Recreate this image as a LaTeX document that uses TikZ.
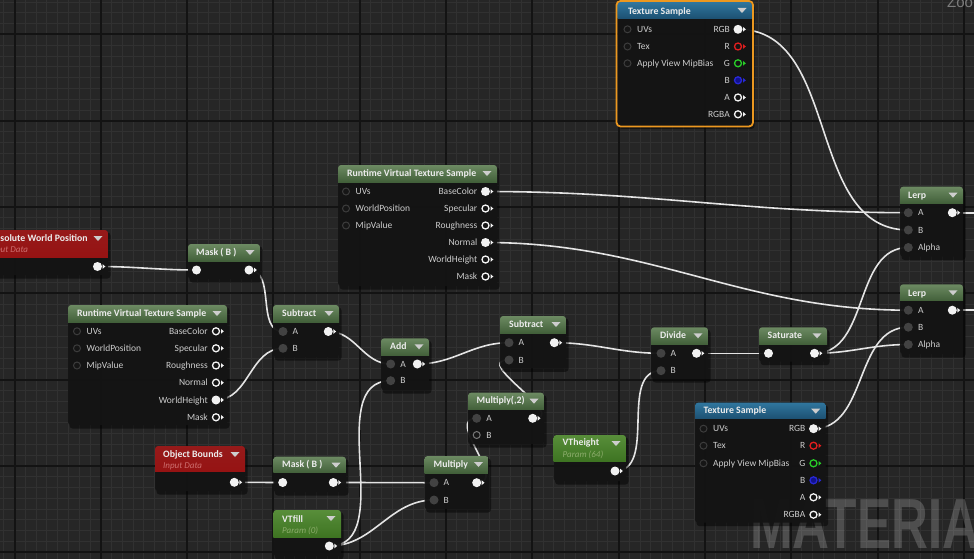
\documentclass[tikz,border=0pt]{standalone}
\usepackage{fontspec}
\newfontfamily\uefont{Carlito}
\newfontfamily\wmfont{Liberation Sans}
\pgfdeclarelayer{gridlayer}
\pgfdeclarelayer{wirelayer}
\pgfsetlayers{gridlayer,wirelayer,main}
\definecolor{bgc}{RGB}{38,38,38}
\definecolor{minorc}{RGB}{49,49,49}
\definecolor{majorc}{RGB}{19,19,19}
\definecolor{bodyc}{RGB}{20,20,20}
\definecolor{wirec}{RGB}{228,228,228}
\definecolor{pinw}{RGB}{242,242,242}
\definecolor{ping}{RGB}{66,66,66}
\definecolor{pinud}{RGB}{60,60,60}
\definecolor{pinuf}{RGB}{22,22,22}
\definecolor{pinm}{RGB}{120,120,120}
\definecolor{lblc}{RGB}{205,205,205}
\definecolor{ttlc}{RGB}{236,236,236}
\definecolor{hdrarrow}{RGB}{205,205,205}
\definecolor{gtop}{RGB}{108,138,98}
\definecolor{gbot}{RGB}{56,86,48}
\definecolor{ptop}{RGB}{88,142,58}
\definecolor{pbot}{RGB}{58,112,30}
\definecolor{rtop}{RGB}{150,26,26}
\definecolor{rbot}{RGB}{150,18,18}
\definecolor{btop}{RGB}{48,118,158}
\definecolor{bbot}{RGB}{24,72,104}
\definecolor{subred}{RGB}{205,110,110}
\definecolor{subgrn}{RGB}{140,172,108}
\definecolor{selc}{RGB}{236,152,32}
\definecolor{pinr}{RGB}{225,30,30}
\definecolor{ping2}{RGB}{40,205,40}
\definecolor{pinb}{RGB}{40,40,215}
\definecolor{pinbf}{RGB}{18,18,140}
\definecolor{zoomc}{RGB}{125,125,125}
\tikzset{
  pW/.style={circle,fill=pinw,inner sep=0,minimum size=9pt},
  pH/.style={circle,draw=pinw,fill=bodyc,line width=1.3pt,inner sep=0,minimum size=7pt},
  pG/.style={circle,fill=ping,inner sep=0,minimum size=9pt},
  pU/.style={circle,draw=pinud,fill=pinuf,line width=1pt,inner sep=0,minimum size=7pt},
  pM/.style={circle,draw=pinm,fill=pinuf,line width=1pt,inner sep=0,minimum size=7pt},
  lbl/.style={inner sep=0,text=lblc,font=\uefont\fontsize{9.5}{10}\selectfont,text height=6.2pt,text depth=0pt},
  ttl/.style={inner sep=0,text=ttlc,font=\uefont\bfseries\fontsize{9.8}{12}\selectfont,text height=6.5pt,text depth=0pt,anchor=west},
  subt/.style={inner sep=0,font=\uefont\itshape\fontsize{9}{10}\selectfont,text height=6pt,text depth=0pt,anchor=west},
  wire/.style={draw=wirec,line width=1.6pt},
  hgreen/.style={top color=gtop,bottom color=gbot},
  hparam/.style={top color=ptop,bottom color=pbot},
  hred/.style={top color=rtop,bottom color=rbot},
  hblue/.style={top color=btop,bottom color=bbot},
}
% box: x1,y1,x2,y2,header bottom,header style
\newcommand\uebox[6]{%
  \fill[black,opacity=0.45,rounded corners=3] (#1+1.5,#2+2.5) rectangle (#3+2.5,#4+3.5);
  \fill[bodyc,opacity=0.94,rounded corners=3] (#1,#2) rectangle (#3,#4);
  \begin{scope}
    \clip (#1,#2) rectangle (#3,#5);
    \shade[#6,rounded corners=3] (#1,#2) rectangle (#3,#5+4);
  \end{scope}
  \fill[hdrarrow] (#3-14.5,#2+6) -- (#3-5.5,#2+6) -- (#3-10,#2+11) -- cycle;
}
\newcommand\tri[3]{\fill[#3] (#1+5,#2-2.4) -- (#1+7.8,#2) -- (#1+5,#2+2.4) -- cycle;}
\newcommand\outW[4]{\node[pW] (#1) at (#2,#3) {};\tri{#2}{#3}{pinw}\node[lbl,anchor=east] (#1l) at (#2-8,#3) {#4};}
\newcommand\outH[4]{\node[pH] (#1) at (#2,#3) {};\tri{#2}{#3}{pinw}\node[lbl,anchor=east] (#1l) at (#2-8,#3) {#4};}
\newcommand\outC[5]{\node[pH,draw=#5] (#1) at (#2,#3) {};\tri{#2}{#3}{#5}\node[lbl,anchor=east] (#1l) at (#2-8,#3) {#4};}
\newcommand\outB[4]{\node[pH,draw=pinb,fill=pinbf] (#1) at (#2,#3) {};\tri{#2}{#3}{pinb}\node[lbl,anchor=east] (#1l) at (#2-8,#3) {#4};}
\newcommand\inU[4]{\node[pU] (#1) at (#2,#3) {};\node[lbl,anchor=west] (#1l) at (#2+9.5,#3) {#4};}
\newcommand\inG[4]{\node[pG] (#1) at (#2,#3) {};\node[lbl,anchor=west] (#1l) at (#2+9.5,#3) {#4};}
\newcommand\inM[4]{\node[pM] (#1) at (#2,#3) {};\node[lbl,anchor=west] (#1l) at (#2+9.5,#3) {#4};}
\begin{document}
\begin{tikzpicture}[x=1pt,y=-1pt]
\useasboundingbox (0,0) rectangle (974,559);
\begin{pgfonlayer}{gridlayer}
  \fill[bgc] (0,0) rectangle (974,559);
  \foreach \i in {-2,...,92} \draw[minorc,line width=1pt] ({14.5+10.7875*\i},0) -- ++(0,559);
  \foreach \i in {-4,...,52} \draw[minorc,line width=1pt] (0,{34.5+10.7875*\i}) -- ++(974,0);
  \foreach \i in {0,...,11} \draw[majorc,line width=2pt] ({14.5+86.3*\i},0) -- ++(0,559);
  \foreach \i in {-1,...,6} \draw[majorc,line width=2pt] (0,{34.5+86.3*\i}) -- ++(974,0);
\end{pgfonlayer}
\begin{scope}
\clip (0,0) rectangle (974,559);
% watermark and zoom label
\node[anchor=base west,inner sep=0,text=white,text opacity=0.19,font=\wmfont\bfseries\fontsize{71}{71}\selectfont,xscale=0.72] (wm) at (750,548) {MATERIAL};
\node[anchor=base west,inner sep=0,text=zoomc,font=\wmfont\fontsize{15}{15}\selectfont] (zoomt) at (947,8) {Zoom -2};

% Absolute World Position
\uebox{-24}{230}{108}{275}{257}{hred}
\node[ttl] (awpT) at (-11,238) {Absolute World Position};
\node[subt,text=subred] (awpS) at (-11,249.5) {Input Data};
\outW{awp}{97.5}{266.5}{}

% Mask (B) top
\uebox{188}{244}{260}{279}{261}{hgreen}
\node[ttl] (mb1T) at (196,252.5) {Mask ( B )};
\node[pW] (mb1i) at (196.5,270) {};
\outW{mb1o}{249}{270}{}

% RVT left
\uebox{68}{305}{227}{425}{322}{hgreen}
\node[ttl] (rvlT) at (77,313.5) {Runtime Virtual Texture Sample};
\inU{rvlUV}{77}{331.3}{UVs}
\inU{rvlWP}{77}{348.3}{WorldPosition}
\inU{rvlMV}{77}{365.5}{MipValue}
\outH{rvlBC}{216}{331.3}{BaseColor}
\outH{rvlSp}{216}{348.3}{Specular}
\outH{rvlRo}{216}{365.5}{Roughness}
\outH{rvlNo}{216}{382.7}{Normal}
\outW{rvlWH}{216}{400}{WorldHeight}
\outH{rvlMa}{216}{417.3}{Mask}

% RVT top
\uebox{338}{165}{497}{286}{182}{hgreen}
\node[ttl] (rvtT) at (347,173.5) {Runtime Virtual Texture Sample};
\inU{rvtUV}{346}{191.5}{UVs}
\inU{rvtWP}{346}{208.5}{WorldPosition}
\inU{rvtMV}{346}{225.5}{MipValue}
\outW{rvtBC}{485.5}{191.5}{BaseColor}
\outH{rvtSp}{485.5}{208.5}{Specular}
\outH{rvtRo}{485.5}{225.5}{Roughness}
\outW{rvtNo}{485.5}{242.5}{Normal}
\outH{rvtWH}{485.5}{259.5}{WorldHeight}
\outH{rvtMa}{485.5}{276.5}{Mask}

% Subtract left
\uebox{273}{305}{339}{357}{322}{hgreen}
\node[ttl] (s1T) at (282,313.5) {Subtract};
\inG{s1A}{283}{331.5}{A}
\inG{s1B}{283}{348.3}{B}
\outW{s1o}{328.3}{331.5}{}

% Add
\uebox{381}{338.3}{429}{390}{355.5}{hgreen}
\node[ttl] (addT) at (390,346.7) {Add};
\inG{addA}{390.7}{364}{A}
\inG{addB}{390.7}{380.7}{B}
\outW{addO}{417.3}{364}{}

% Subtract middle
\uebox{500}{316}{566}{368.3}{333}{hgreen}
\node[ttl] (s2T) at (509,324.7) {Subtract};
\inG{s2A}{509}{342.7}{A}
\inG{s2B}{509}{360}{B}
\outW{s2o}{554.3}{342.7}{}

% Multiply(,2)
\uebox{468}{392.7}{544}{444}{409.5}{hgreen}
\node[ttl] (m2T) at (476.5,400.7) {Multiply(,2)};
\inG{m2A}{476.7}{418.3}{A}
\inM{m2B}{476.7}{435}{B}
\outW{m2o}{532.7}{418.3}{}

% Multiply
\uebox{424.5}{456}{488.5}{509}{473}{hgreen}
\node[ttl] (m1T) at (433.5,464.5) {Multiply};
\inG{m1A}{434}{482.7}{A}
\inG{m1B}{434}{500}{B}
\outW{m1o}{476.7}{482.7}{}

% Object Bounds
\uebox{155}{446}{245}{491}{471.5}{hred}
\node[ttl] (obT) at (163,454) {Object Bounds};
\node[subt,text=subred] (obS) at (163,465.5) {Input Data};
\outW{obo}{234.3}{482.3}{}

% Mask (B) bottom
\uebox{273.3}{456.7}{346}{492}{472.7}{hgreen}
\node[ttl] (mb2T) at (282,464.7) {Mask ( B )};
\node[pW] (mb2i) at (282.7,482.5) {};
\outW{mb2o}{333.3}{482.5}{}

% VTfill
\uebox{273.3}{510}{341}{556}{537}{hparam}
\node[ttl] (vfT) at (282,519) {VTfill};
\node[subt,text=subgrn] (vfS) at (282,530.5) {Param (0)};
\outW{vfo}{329.3}{546}{}

% VTheight
\uebox{553.5}{435}{626}{481}{461.5}{hparam}
\node[ttl] (vhT) at (562.5,442.7) {VTheight};
\node[subt,text=subgrn] (vhS) at (562.5,454.5) {Param (64)};
\outW{vho}{615}{471}{}

% Divide
\uebox{651}{327.3}{708}{379}{344.5}{hgreen}
\node[ttl] (dvT) at (660,335.5) {Divide};
\inG{dvA}{661}{353.3}{A}
\inG{dvB}{661}{370.7}{B}
\outW{dvo}{696.5}{353.3}{}

% Saturate
\uebox{759}{327.3}{827}{361.7}{344.5}{hgreen}
\node[ttl] (stT) at (767.5,335.7) {Saturate};
\node[pW] (sti) at (768.5,353.3) {};
\outW{sto}{814.5}{353.3}{}

% Lerp top
\uebox{900}{186.7}{963}{256.5}{203}{hgreen}
\node[ttl] (l1T) at (908,195) {Lerp};
\inG{l1A}{908.3}{212.7}{A}
\inG{l1B}{908.3}{230}{B}
\inG{l1C}{908.3}{247.5}{Alpha}
\outW{l1o}{952.3}{212.7}{}

% Lerp bottom
\uebox{900}{284.3}{963}{354}{300.5}{hgreen}
\node[ttl] (l2T) at (908,292.8) {Lerp};
\inG{l2A}{908.3}{310.2}{A}
\inG{l2B}{908.3}{327.2}{B}
\inG{l2C}{908.3}{344.5}{Alpha}
\outW{l2o}{952.3}{310.2}{}

% Texture Sample top (selected)
\uebox{617.5}{2}{752}{125.5}{18.5}{hblue}
\draw[selc,line width=1.8pt,rounded corners=4] (616.5,1) rectangle (753,126.5);
\node[ttl] (t1T) at (628,11.5) {Texture Sample};
\inU{t1UV}{627.5}{29.3}{UVs}
\inU{t1Tx}{627.5}{46.5}{Tex}
\inU{t1Mb}{627.5}{63.3}{Apply View MipBias}
\outW{t1RGB}{738}{29.3}{RGB}
\outC{t1R}{738}{46.5}{R}{pinr}
\outC{t1G}{738}{63.3}{G}{ping2}
\outB{t1B}{738}{80.3}{B}
\outH{t1A}{738}{97.5}{A}
\outH{t1RGBA}{738}{114.3}{RGBA}

% Texture Sample bottom
\uebox{695}{402.7}{825.7}{522.7}{418.5}{hblue}
\node[ttl] (t2T) at (703.5,410.7) {Texture Sample};
\inU{t2UV}{703.5}{428.7}{UVs}
\inU{t2Tx}{703.5}{445.7}{Tex}
\inU{t2Mb}{703.5}{463.3}{Apply View MipBias}
\outW{t2RGB}{813.5}{428.7}{RGB}
\outC{t2R}{813.5}{445.7}{R}{pinr}
\outC{t2G}{813.5}{463.3}{G}{ping2}
\outB{t2B}{813.5}{480.3}{B}
\outH{t2A}{813.5}{497.3}{A}
\outH{t2RGBA}{813.5}{514.7}{RGBA}

\coordinate (l1end) at (990,212.7);
\coordinate (l2end) at (990,310.2);
\end{scope}

\begin{pgfonlayer}{wirelayer}
\clip (0,0) rectangle (974,559);
\draw[wire] (awp.center) to[out=0,in=180] (mb1i.center);
\draw[wire] (mb1o.center) to[out=0,in=180] (s1A.center);
\draw[wire] (rvlWH.center) to[out=0,in=180] (s1B.center);
\draw[wire] (s1o.center) to[out=0,in=180] (addA.center);
\draw[wire] (addO.center) to[out=0,in=180] (s2A.center);
\draw[wire] (m2o.center) to[out=0,in=180,looseness=1.6] (s2B.center);
\draw[wire] (m1o.center) to[out=0,in=180,looseness=1.3] (m2A.center);
\draw[wire] (s2o.center) to[out=0,in=180] (dvA.center);
\draw[wire] (vho.center) to[out=0,in=180] (dvB.center);
\draw[wire] (dvo.center) to[out=0,in=180] (sti.center);
\draw[wire] (sto.center) to[out=0,in=180] (l1C.center);
\draw[wire] (sto.center) to[out=0,in=180] (l2C.center);
\draw[wire] (obo.center) to[out=0,in=180] (mb2i.center);
\draw[wire] (mb2o.center) to[out=0,in=180] (m1A.center);
\draw[wire] (vfo.center) to[out=0,in=180] (m1B.center);
\draw[wire] (vfo.center) to[out=0,in=180] (addB.center);
\draw[wire] (rvtBC.center) to[out=0,in=180] (l1A.center);
\draw[wire] (rvtNo.center) to[out=0,in=180] (l2A.center);
\draw[wire] (t1RGB.center) to[out=0,in=180] (l1B.center);
\draw[wire] (t2RGB.center) to[out=0,in=180] (l2B.center);
\draw[wire] (l1o.center) -- (l1end);
\draw[wire] (l2o.center) -- (l2end);
\end{pgfonlayer}
\end{tikzpicture}
\end{document}
